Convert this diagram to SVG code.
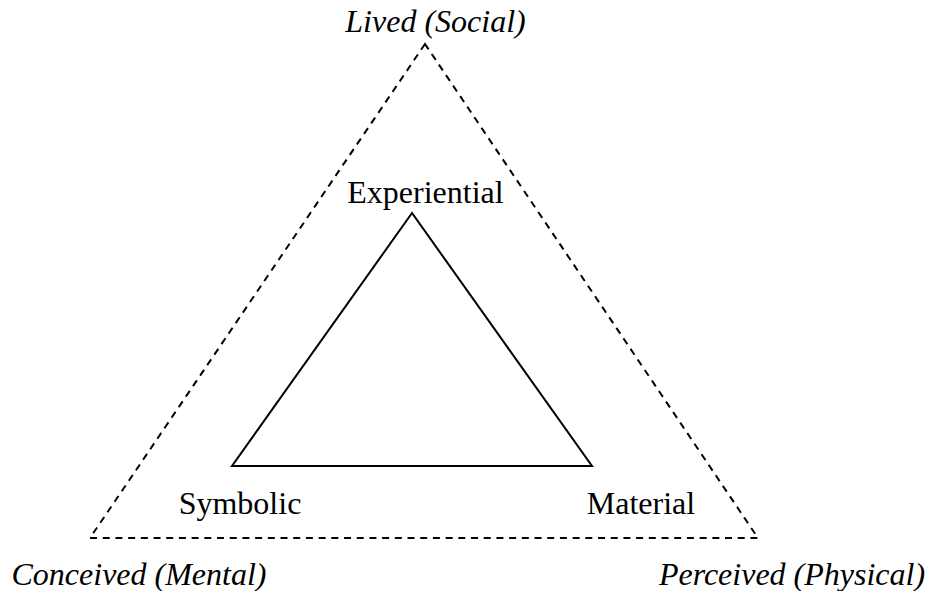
<svg xmlns="http://www.w3.org/2000/svg" width="931" height="591" viewBox="0 0 931 591">
<style>
text{font-family:"Liberation Serif","Times New Roman",serif;font-size:32px;fill:#000}
.it{font-style:italic}
.outer{fill:none;stroke:#000;stroke-width:2;stroke-dasharray:7,5.7}
.inner{fill:none;stroke:#000;stroke-width:2}
</style>
<rect width="931" height="591" fill="#fff"/>
<g id="connectors">
<polygon class="outer" points="425,44 90,538 758,538"/>
<polygon class="inner" points="412,213 232,466 592,466"/>
</g>
<g id="lived"><text class="it" x="435.5" y="32" text-anchor="middle">Lived (Social)</text></g>
<g id="experiential"><text x="425.5" y="203" text-anchor="middle">Experiential</text></g>
<g id="symbolic"><text x="240" y="514" text-anchor="middle">Symbolic</text></g>
<g id="material"><text x="641" y="514" text-anchor="middle">Material</text></g>
<g id="conceived"><text class="it" x="139" y="585" text-anchor="middle">Conceived (Mental)</text></g>
<g id="perceived"><text class="it" x="792" y="585" text-anchor="middle">Perceived (Physical)</text></g>
</svg>
